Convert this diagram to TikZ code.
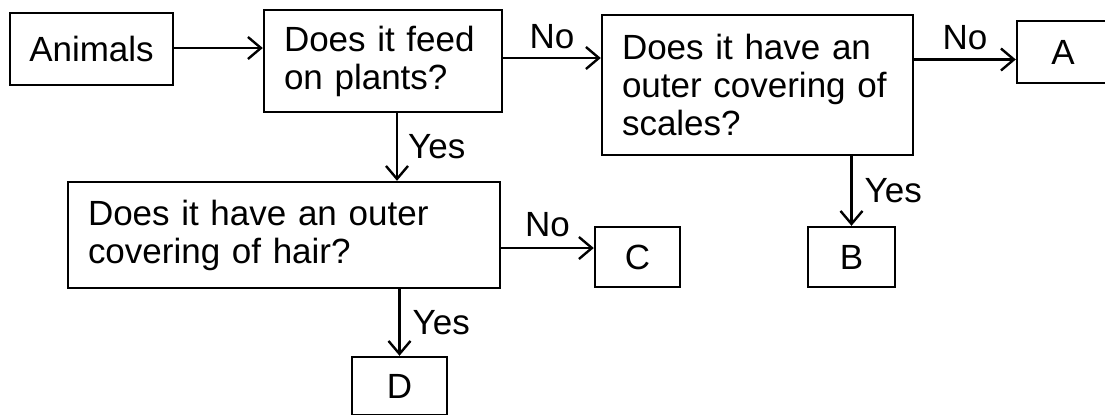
\documentclass[tikz,border=0pt]{standalone}
\usepackage{fontspec}
\setmainfont{Liberation Sans}
\usetikzlibrary{arrows.meta}
\tikzset{
  caja/.style={draw, line width=1.2pt, inner sep=0pt, font=\fontsize{17.5}{19}\selectfont},
  pregunta/.style={caja, align=left, inner xsep=10pt},
  flecha/.style={-{Straight Barb[length=6.5pt,width=11pt]}, line width=1.2pt},
  etiq/.style={inner sep=1pt, font=\fontsize{17.5}{19}\selectfont}
}
\begin{document}
\begin{tikzpicture}[x=0.5pt,y=-0.5pt]
		\useasboundingbox (0,0) rectangle (1105,414); %margenes
		\node[caja, minimum width=81.5pt, minimum height=36pt] (animals) at (91.5,49) {Animals}; %caja inicial
		\node[pregunta, text width=99pt, minimum height=51pt] (feed) at (383,61) {Does it feed\\on plants?}; %primera pregunta
		\node[pregunta, text width=135.5pt, minimum height=70pt] (scales) at (757.5,85) {Does it have an\\outer covering of\\scales?}; %escamas
		\node[pregunta, text width=196pt, minimum height=53pt] (hair) at (284,235) {Does it have an outer\\covering of hair?}; %pelo
		\node[caja, minimum width=46pt, minimum height=31pt] (A) at (1063,52) {A};
		\node[caja, minimum width=43.5pt, minimum height=30pt] (B) at (851.5,257) {B};
		\node[caja, minimum width=42.5pt, minimum height=30pt] (C) at (637.5,257) {C};
		\node[caja, minimum width=47.5pt, minimum height=29pt] (D) at (399.5,386) {D};
		\draw[flecha] ([yshift=0.5pt]animals.east) -- ([yshift=0.5pt]animals.east -| feed.west); %animales a pregunta
		\draw[flecha] ([yshift=1.5pt]feed.east) -- ([yshift=1.5pt]feed.east -| scales.west) node[etiq, midway, above=3pt] {No};
		\draw[flecha] ([yshift=-3.75pt]A.west -| scales.east) -- ([yshift=-3.75pt]A.west) node[etiq, midway, above=3pt] {No};
		\draw[flecha] (feed.south -| 397,0) -- (hair.north -| 397,0) node[etiq, midway, right=4pt] {Yes};
		\draw[flecha] (scales.south -| B.north) -- (B.north) node[etiq, midway, right=5pt] {Yes};
		\draw[flecha] ([yshift=4.5pt]C.west -| hair.east) -- ([yshift=4.5pt]C.west) node[etiq, midway, above=4pt] {No};
		\draw[flecha] (hair.south -| D.north) -- (D.north) node[etiq, midway, right=5pt] {Yes};
\end{tikzpicture}
\end{document}
